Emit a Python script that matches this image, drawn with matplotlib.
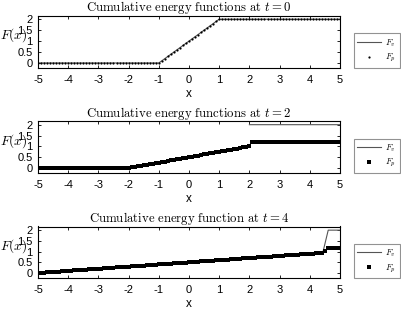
import matplotlib
matplotlib.use("Agg")
import matplotlib.pyplot as plt
import numpy as np

plt.rcParams['font.family'] = ['Liberation Sans', 'DejaVu Sans']
plt.rcParams['mathtext.fontset'] = 'cm'
plt.rcParams['axes.unicode_minus'] = False

# sample points of the discrete solution (step 0.1)
x_pts = np.round(np.arange(-5.0, 5.0001, 0.1), 2)

# t = 0
fp_t0 = [0.0] * 41 + [0.1, 0.2, 0.3, 0.4, 0.5, 0.6, 0.7, 0.8, 0.9, 1.0,
                      1.1, 1.2, 1.3, 1.4, 1.5, 1.6, 1.7, 1.8, 1.9] + [2.0] * 41
fv_x_t0 = [-5, -1, 1, 5]
fv_y_t0 = [0, 0, 2, 2]

# t = 2
fp_t2 = [0.0] * 31 + [0.025, 0.05, 0.075, 0.1, 0.125, 0.15, 0.175, 0.2, 0.225, 0.25,
                      0.275, 0.3, 0.325, 0.35, 0.375, 0.4, 0.425, 0.45, 0.475, 0.5,
                      0.525, 0.55, 0.575, 0.6, 0.625, 0.65, 0.675, 0.7, 0.725, 0.75,
                      0.775, 0.8, 0.825, 0.85, 0.875, 0.9, 0.925, 0.95, 0.975, 1.0] + [1.19] * 30
fv_x_t2 = [-5, -2, 2, 2, 2, 5]
fv_y_t2 = [0, 0, 1, np.nan, 2, 2]

# t = 4
fp_t4 = [0.00, 0.01, 0.02, 0.03, 0.04, 0.05, 0.06, 0.07, 0.08, 0.09,
         0.10, 0.11, 0.12, 0.13, 0.14, 0.15, 0.16, 0.17, 0.18, 0.19,
         0.20, 0.21, 0.22, 0.23, 0.24, 0.25, 0.26, 0.27, 0.28, 0.29,
         0.30, 0.31, 0.32, 0.33, 0.34, 0.35, 0.36, 0.37, 0.38, 0.39,
         0.40, 0.41, 0.42, 0.43, 0.44, 0.45, 0.46, 0.47, 0.48, 0.49,
         0.50, 0.51, 0.52, 0.53, 0.54, 0.55, 0.56, 0.57, 0.58, 0.59,
         0.60, 0.61, 0.62, 0.63, 0.64, 0.65, 0.66, 0.67, 0.68, 0.69,
         0.70, 0.71, 0.72, 0.73, 0.74, 0.75, 0.76, 0.77, 0.78, 0.79,
         0.80, 0.81, 0.82, 0.83, 0.84, 0.85, 0.86, 0.87, 0.88, 0.89,
         0.90, 0.91, 0.92, 0.93, 0.94, 1.04, 1.16, 1.19, 1.19, 1.19, 1.19]
fv_x_t4 = [-5, 4.43, 4.61, 5]
fv_y_t4 = [0, 0.95, 2, 2]

titles = [r"$\mathrm{Cumulative\ energy\ functions\ at\ }t = 0$",
          r"$\mathrm{Cumulative\ energy\ functions\ at\ }t = 2$",
          r"$\mathrm{Cumulative\ energy\ function\ at\ }t = 4$"]
xticks = [-5, -4, -3, -2, -1, 0, 1, 2, 3, 4, 5]
yticks = [0, 0.5, 1, 1.5, 2]

fig = plt.figure(figsize=(4.01, 3.10), dpi=100)
W, H = 401, 310
boxes = [(15.5, 68), (121, 173), (226.5, 278)]
data = [(fv_x_t0, fv_y_t0, fp_t0, 'o', 1.6),
        (fv_x_t2, fv_y_t2, fp_t2, 's', 3.0),
        (fv_x_t4, fv_y_t4, fp_t4, 's', 3.0)]

for i in range(3):
    top, bot = boxes[i]
    ax = fig.add_axes([38 / W, 1 - bot / H, 302 / W, (bot - top) / H])
    fvx, fvy, fp, mk, ms = data[i]
    ax.plot(fvx, fvy, color='#555555', lw=0.8, label=r'$F_v$')
    ax.plot(x_pts, fp, linestyle='none', marker=mk, markersize=ms, color='black',
            markeredgewidth=0, label=r'$F_p$')
    ax.set_xlim(-5, 5)
    ax.set_ylim(-0.23, 2.17)
    ax.set_xticks(xticks)
    ax.set_yticks(yticks)
    ax.set_yticklabels(['0', '0.5', '1', '1.5', '2'])
    ax.tick_params(direction='in', length=2.5, width=0.6, top=True, right=True,
                   labelsize=8, pad=4)
    ax.tick_params(axis='x', pad=5)
    for s in ax.spines.values():
        s.set_linewidth(0.8)
    ax.set_title(titles[i], fontsize=9.2, pad=3)
    ax.set_xlabel('x', fontsize=8.5, labelpad=2)
    ax.set_ylabel(r'$F(x)$', rotation=0, fontsize=9.5)
    ax.yaxis.set_label_coords(-0.08, 0.62)
    ax.yaxis.label.set_va('center')
    ax.yaxis.label.set_ha('center')
    leg = ax.legend(loc='center left', bbox_to_anchor=(1.045, 0.33), fontsize=6.5,
                    handlelength=2.6, fancybox=False, edgecolor='#777777',
                    markerfirst=True, borderpad=0.4, labelspacing=0.4,
                    handletextpad=0.5, borderaxespad=0)
    leg.get_frame().set_linewidth(0.8)

fig.savefig('out.png', dpi=100)
